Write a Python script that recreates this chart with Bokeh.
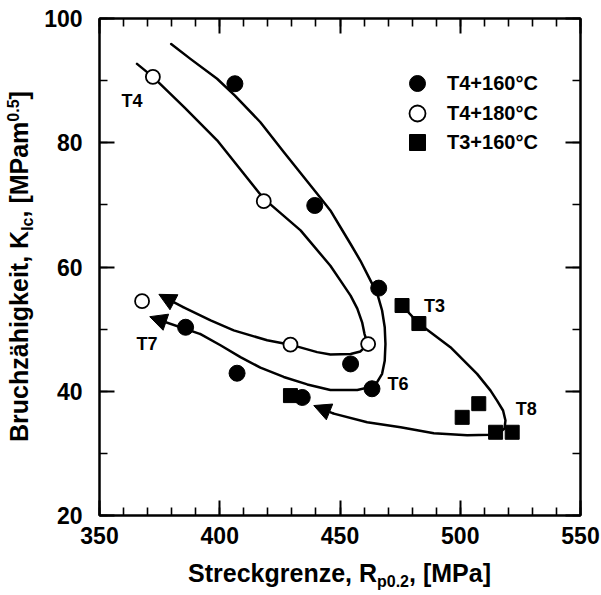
from bokeh.plotting import figure
from bokeh.models import (Range1d, LinearAxis, SingleIntervalTicker, Arrow, NormalHead,
                          Legend, LegendItem, Div)
from bokeh.layouts import row, column
from bokeh.core.properties import value
from bokeh.embed import file_html
from bokeh.resources import INLINE

# ---------------- data ----------------
t4_160_x = [406.3, 439.5, 466.1, 454.4, 463.3, 434.3, 407.2, 385.8]
t4_160_y = [89.5, 69.9, 56.6, 44.4, 40.4, 39.0, 42.9, 50.3]

t4_180_x = [372.2, 418.3, 461.7, 429.4, 367.7]
t4_180_y = [90.6, 70.6, 47.6, 47.5, 54.5]

t3_160_x = [475.8, 482.8, 500.8, 507.7, 514.7, 521.6, 429.4]
t3_160_y = [53.8, 50.9, 35.8, 38.0, 33.4, 33.4, 39.3]

# hand-drawn trend curves (last point = arrow tip)
curve_a_x = [379.8, 387.8, 398.9, 406.3, 416.9, 426.6, 440.5, 446.0, 450.2, 454.4, 458.5,
             462.7, 465.5, 467.5, 468.6, 468.9, 468.6, 467.5, 465.5, 462.7, 457.2, 446.0,
             436.4, 426.6, 416.9, 408.6, 400.3, 392.0, 370.9]
curve_a_y = [95.9, 93.5, 90.3, 87.6, 83.3, 78.5, 71.8, 69.1, 66.4, 63.7, 61.0,
             57.8, 55.7, 53.0, 50.3, 47.6, 44.9, 42.8, 41.5, 40.7, 40.2, 40.2,
             41.1, 42.3, 43.8, 45.5, 47.4, 49.2, 52.0]

curve_b_x = [365.6, 372.2, 385.5, 398.9, 418.3, 433.6, 446.0, 450.2, 454.4, 457.2, 459.2,
             460.2, 461.6, 458.5, 454.4, 446.0, 440.5, 429.4, 419.7, 405.8, 396.2, 385.0,
             374.7]
curve_b_y = [92.7, 90.6, 85.6, 80.4, 71.0, 65.9, 60.2, 57.8, 55.4, 53.3, 51.1,
             49.2, 47.6, 46.4, 46.0, 45.9, 46.3, 47.5, 48.2, 49.8, 51.4, 53.5,
             55.6]

curve_c_x = [475.8, 482.8, 489.0, 495.9, 507.0, 512.6, 515.3, 517.8, 518.8, 518.4, 516.0,
             512.6, 502.9, 489.0, 475.2, 461.3, 447.4, 439.1]
curve_c_y = [53.8, 50.9, 49.1, 47.1, 42.8, 40.1, 38.5, 36.9, 35.3, 34.0, 33.25,
             33.0, 32.9, 33.25, 34.2, 35.0, 36.4, 37.7]

series_names = ["T4+160°C", "T4+180°C", "T3+160°C"]

state_text = ["T4", "T3", "T6", "T7", "T8"]
state_x = [363.5, 489.3, 474.1, 369.8, 527.4]
state_y = [86.7, 53.8, 41.1, 47.6, 37.2]

x_ticks_interval = 50
y_ticks_interval = 20

FONT = "Liberation Sans"

# ---------------- layout geometry (page pixels) ----------------
YDIV_W = 40          # strip on the left holding the rotated y title
FIG_W, FIG_H = 601 - YDIV_W, 560
XDIV_H = 595 - FIG_H

p = figure(width=FIG_W, height=FIG_H, output_backend="svg", toolbar_location=None,
           x_range=Range1d(350, 550), y_range=Range1d(20, 100),
           x_axis_type=None, y_axis_type=None,
           min_border_left=99 - YDIV_W, min_border_right=21, min_border_top=18,
           min_border_bottom=FIG_H - 515)
p.grid.visible = False
p.outline_line_color = "black"
p.outline_line_width = 2
p.background_fill_color = "white"
p.border_fill_color = "white"


def make_axis(ticker_interval, minors, show_labels, standoff):
    ax = LinearAxis(ticker=SingleIntervalTicker(interval=ticker_interval, num_minor_ticks=minors))
    ax.axis_line_width = 2
    ax.axis_line_color = "black"
    ax.major_tick_in = 15
    ax.major_tick_out = 0
    ax.minor_tick_in = 8
    ax.minor_tick_out = 0
    ax.major_tick_line_width = 2
    ax.minor_tick_line_width = 1.6
    ax.major_tick_line_color = "black"
    ax.minor_tick_line_color = "black"
    if show_labels:
        ax.major_label_text_font = FONT
        ax.major_label_text_font_style = "bold"
        ax.major_label_text_font_size = "23px"
        ax.major_label_text_color = "black"
        ax.major_label_standoff = standoff
    else:
        ax.major_label_text_font_size = "0px"
        ax.major_label_text_color = None
        ax.major_label_standoff = 0
    return ax


p.add_layout(make_axis(x_ticks_interval, 5, True, 11), "below")
p.add_layout(make_axis(y_ticks_interval, 2, True, 17), "left")
p.add_layout(make_axis(x_ticks_interval, 5, False, 0), "above")
p.add_layout(make_axis(y_ticks_interval, 2, False, 0), "right")

# ---------------- curves with arrows ----------------
for cx, cy in [(curve_a_x, curve_a_y), (curve_b_x, curve_b_y), (curve_c_x, curve_c_y)]:
    p.line(cx[:-1], cy[:-1], line_width=2.5, line_color="black", line_join="round", line_cap="round")
    p.add_layout(Arrow(end=NormalHead(size=17, fill_color="black", line_color="black", line_width=1),
                       line_width=2.5, line_color="black",
                       x_start=cx[-2], y_start=cy[-2], x_end=cx[-1], y_end=cy[-1]))

# ---------------- markers ----------------
r1 = p.scatter(t4_160_x, t4_160_y, marker="circle", size=16, fill_color="black", line_color="black")
r2 = p.scatter(t4_180_x, t4_180_y, marker="circle", size=14, fill_color="white", line_color="black",
               line_width=1.8)
r3 = p.scatter(t3_160_x, t3_160_y, marker="square", size=14, fill_color="black", line_color="black")

# ---------------- state labels ----------------
p.text(x=state_x, y=state_y, text=state_text, text_font=value(FONT), text_font_style="bold",
       text_font_size="18px", text_align="center", text_baseline="middle", text_color="black")

# ---------------- legend: one entry per Legend so the rows can sit close together ----------------
legend_bottoms = [412, 382, 353]   # frame-relative screen offsets of each entry's bottom edge
for name, rend, yb in zip(series_names, [r1, r2, r3], legend_bottoms):
    lg = Legend(items=[LegendItem(label=name, renderers=[rend])],
                location=(298, yb), glyph_width=40, glyph_height=40, label_height=40,
                spacing=0, padding=0, margin=0, label_standoff=10,
                border_line_color=None, background_fill_alpha=0,
                label_text_font=FONT, label_text_font_style="bold",
                label_text_font_size="20px", label_text_color="black")
    p.add_layout(lg)

# ---------------- axis titles (HTML, real sub/superscripts) ----------------
SUB = "font-size:16px;position:relative;top:5px;"
SUP = "font-size:16px;position:relative;top:-9px;"
BASE = f"font-family:'{FONT}';font-weight:bold;font-size:25px;line-height:25px;white-space:nowrap;color:black;"

y_title = (f'<div style="position:relative;width:{YDIV_W}px;height:{FIG_H}px;">'
           f'<div style="position:absolute;left:7px;top:442px;transform-origin:0 0;'
           f'transform:rotate(-90deg);{BASE}">'
           f'Bruchzähigkeit, K<span style="{SUB}">Ic</span>, [MPam<span style="{SUP}">0.5</span>]'
           f'</div></div>')
x_title = (f'<div style="position:relative;width:601px;height:{XDIV_H}px;">'
           f'<div style="position:absolute;left:39px;top:1px;width:601px;text-align:center;{BASE}">'
           f'Streckgrenze, R<span style="{SUB}">p0.2</span>, [MPa]'
           f'</div></div>')

ydiv = Div(text=y_title, width=YDIV_W, height=FIG_H, margin=0,
           styles={"overflow": "visible"})
xdiv = Div(text=x_title, width=601, height=XDIV_H, margin=0,
           styles={"overflow": "visible"})

layout = column(row(ydiv, p, spacing=0, margin=0), xdiv, spacing=0, margin=0)

open("out.html", "w").write(file_html(layout, INLINE))
